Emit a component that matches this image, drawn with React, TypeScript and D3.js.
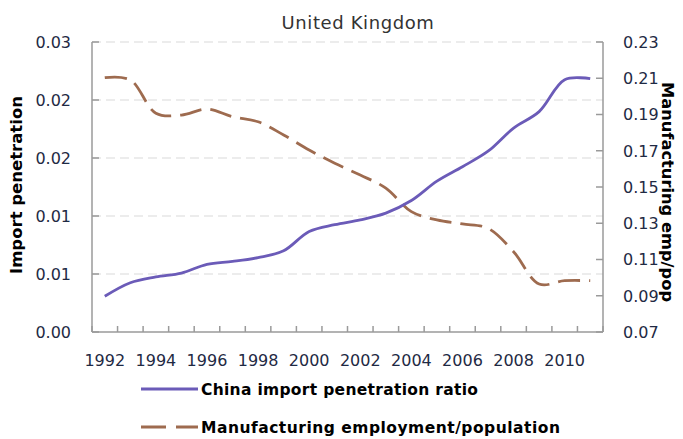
import React from 'react';
import * as d3 from 'd3';

// chart data
const years = [1992, 1993, 1994, 1995, 1996, 1997, 1998, 1999, 2000, 2001,
  2002, 2003, 2004, 2005, 2006, 2007, 2008, 2009, 2010, 2011];
const importPenetration = [0.0037, 0.0051, 0.0057, 0.0061, 0.0070, 0.0073, 0.0077, 0.0084, 0.0104, 0.0111,
  0.0116, 0.0123, 0.0136, 0.0156, 0.0171, 0.0187, 0.0211, 0.0228, 0.0261, 0.0262];
const mfgEmpPop = [0.2103, 0.2091, 0.1907, 0.1897, 0.1930, 0.1888, 0.1860, 0.1787, 0.1704, 0.1631,
  0.1566, 0.1494, 0.1364, 0.1318, 0.1296, 0.1272, 0.1143, 0.0965, 0.0983, 0.0983];
const leftTicks = [0, 0.006, 0.012, 0.018, 0.024, 0.03];
const rightTicks = [0.07, 0.09, 0.11, 0.13, 0.15, 0.17, 0.19, 0.21, 0.23];
const seriesNames = ['China import penetration ratio', 'Manufacturing employment/population'];

const W = 683;
const H = 439;
const margin = { top: 42, right: 80, bottom: 107, left: 92 };
const purple = '#6b5bb8';
const brown = '#9e6b4f';
const labelColor = '#1f2a44';
const font = 'DejaVu Sans, sans-serif';

export default function App() {
  const x = d3.scaleBand<number>()
    .domain(years)
    .range([margin.left, W - margin.right]);
  const yL = d3.scaleLinear().domain([0, 0.03]).range([H - margin.bottom, margin.top]);
  const yR = d3.scaleLinear().domain([0.07, 0.23]).range([H - margin.bottom, margin.top]);
  const cx = (yr: number) => (x(yr) as number) + x.bandwidth() / 2;

  const lineL = d3.line<number>()
    .x((_, i) => cx(years[i]))
    .y(d => yL(d))
    .curve(d3.curveCatmullRom.alpha(0.5));
  const lineR = d3.line<number>()
    .x((_, i) => cx(years[i]))
    .y(d => yR(d))
    .curve(d3.curveCatmullRom.alpha(0.5));

  const x0 = margin.left;
  const x1 = W - margin.right;
  const yBottom = H - margin.bottom;
  const bounds = years.map(yr => x(yr) as number).concat([x1]);

  return (
    <svg width={W} height={H} style={{ position: 'absolute', left: 0, top: 0, background: '#fff' }}>
      <text x={358} y={29} textAnchor="middle" fontFamily={font} fontSize={18} letterSpacing={0.6} fill="#333">
        United Kingdom
      </text>

      {/* gridlines */}
      {leftTicks.slice(1).map(t => (
        <line key={'g' + t} x1={x0} x2={x1} y1={yL(t)} y2={yL(t)}
          stroke="#d9d9d9" strokeWidth={1.2} strokeDasharray="9 5" />
      ))}

      {/* axes */}
      <line x1={x0} x2={x0} y1={margin.top} y2={yBottom} stroke="#9a9a9a" strokeWidth={1.5} />
      <line x1={x1} x2={x1} y1={margin.top} y2={yBottom} stroke="#9a9a9a" strokeWidth={1.5} />
      <line x1={x0} x2={x1} y1={yBottom} y2={yBottom} stroke="#9a9a9a" strokeWidth={1.5} />

      {leftTicks.map(t => (
        <g key={'l' + t}>
          <line x1={x0} x2={x0 + 7} y1={yL(t)} y2={yL(t)} stroke="#9a9a9a" strokeWidth={1.5} />
          <text x={71} y={yL(t)} dy="0.36em" textAnchor="end" fontFamily={font} fontSize={16} fill={labelColor}>
            {d3.format('.2f')(t)}
          </text>
        </g>
      ))}
      {rightTicks.map(t => (
        <g key={'r' + t}>
          <line x1={x1 - 7} x2={x1} y1={yR(t)} y2={yR(t)} stroke="#9a9a9a" strokeWidth={1.5} />
          <text x={623} y={yR(t)} dy="0.36em" textAnchor="start" fontFamily={font} fontSize={16} fill={labelColor}>
            {d3.format('.2f')(t)}
          </text>
        </g>
      ))}
      {bounds.map((b, i) => (
        <line key={'xt' + i} x1={b} x2={b} y1={yBottom - 6} y2={yBottom} stroke="#9a9a9a" strokeWidth={1.5} />
      ))}
      {years.filter((_, i) => i % 2 === 0).map(yr => (
        <text key={'xl' + yr} x={cx(yr)} y={366} textAnchor="middle" fontFamily={font} fontSize={16} fill={labelColor}>
          {yr}
        </text>
      ))}

      {/* axis titles */}
      <text transform="translate(22,185) rotate(-90)" textAnchor="middle" fontFamily={font}
        fontSize={16.5} fontWeight="bold" fill="#000">Import penetration</text>
      <text transform="translate(662,192) rotate(90)" textAnchor="middle" fontFamily={font}
        fontSize={16.3} fontWeight="bold" fill="#000">Manufacturing emp/pop</text>

      {/* series */}
      <path d={lineR(mfgEmpPop) || ''} fill="none" stroke={brown} strokeWidth={2.8} strokeDasharray="22 9" />
      <path d={lineL(importPenetration) || ''} fill="none" stroke={purple} strokeWidth={2.8} />

      {/* legend */}
      <line x1={141} x2={198} y1={389} y2={389} stroke={purple} strokeWidth={2.8} />
      <text x={201} y={389} dy="0.36em" fontFamily={font} fontSize={15.5} letterSpacing={0.3} fontWeight="bold" fill="#000">
        {seriesNames[0]}
      </text>
      <line x1={141} x2={198} y1={427} y2={427} stroke={brown} strokeWidth={2.8} strokeDasharray="25 10" />
      <text x={201} y={427} dy="0.36em" fontFamily={font} fontSize={15.5} letterSpacing={0.5} fontWeight="bold" fill="#000">
        {seriesNames[1]}
      </text>
    </svg>
  );
}
